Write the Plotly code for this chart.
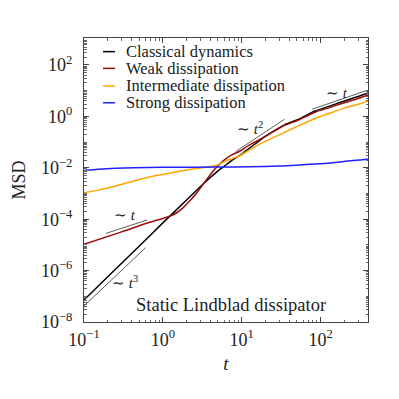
import plotly.graph_objects as go

# ---- data ----
t_black = [0.1, 0.2, 0.5, 1, 2, 3, 4, 5, 6, 8, 10, 13, 20, 35, 50, 85, 130, 200, 300, 400]
msd_black = [7.2e-8, 5.8e-7, 8.9e-6, 7.2e-5, 5.6e-4, 1.86e-3, 4.2e-3, 7.6e-3, 1.15e-2, 2.2e-2,
             3.4e-2, 6.3e-2, 0.166, 0.47, 0.72, 1.62, 2.5, 4.0, 5.9, 8.1]

t_red = [0.1, 0.3, 0.68, 1, 1.23, 1.5, 1.8, 2.2, 2.67, 3.1, 3.57, 4.2, 5, 6, 7.5, 9.4, 12, 16.9,
         20, 35, 50, 85, 130, 200, 300, 400]
msd_red = [1.05e-5, 3.2e-5, 7.6e-5, 1.07e-4, 1.32e-4, 1.78e-4, 2.75e-4, 5.2e-4, 1.02e-3, 1.9e-3,
           3.4e-3, 6.6e-3, 1.2e-2, 2.0e-2, 3.16e-2, 4.4e-2, 7.1e-2, 0.126, 0.17, 0.45, 0.68,
           1.45, 2.2, 3.4, 5.0, 6.9]

t_orange = [0.1, 0.15, 0.26, 0.42, 0.7, 1, 1.84, 2.7, 3.9, 4.8, 6.4, 8, 9.4, 12.6, 16.9, 19.6,
            35, 50, 85, 130, 200, 300, 400]
msd_orange = [1.07e-3, 1.35e-3, 2.0e-3, 3.0e-3, 4.5e-3, 5.5e-3, 7.8e-3, 9.5e-3, 1.1e-2, 1.26e-2,
              1.9e-2, 2.4e-2, 2.9e-2, 5.0e-2, 8.3e-2, 0.105, 0.24, 0.40, 0.83, 1.32, 2.1, 2.95, 4.0]

t_blue = [0.1, 0.15, 0.25, 0.43, 1, 5, 12.6, 30, 54, 100, 143, 220, 312, 400]
msd_blue = [7.8e-3, 8.7e-3, 9.5e-3, 1.0e-2, 1.05e-2, 1.07e-2, 1.1e-2, 1.17e-2, 1.29e-2, 1.45e-2,
            1.58e-2, 1.82e-2, 2.0e-2, 2.2e-2]

# power-law guide lines
guide_t3_t = [0.1, 0.604]
guide_t3_y = [4.2e-8, 7.8e-6]
guide_t1a_t = [0.19, 0.63]
guide_t1a_y = [2.8e-5, 9.3e-5]
guide_t2_t = [8.4, 35]
guide_t2_y = [4.3e-2, 0.78]
guide_t1b_t = [78.5, 378]
guide_t1b_y = [1.9, 10.0]

series_names = ["Classical dynamics", "Weak dissipation", "Intermediate dissipation", "Strong dissipation"]
series_colors = ["#000000", "#9b0b0b", "#ffa500", "#1f1fff"]

y_tick_vals = [1e-8, 1e-6, 1e-4, 1e-2, 1e0, 1e2]
y_tick_text = ["10<sup>−8</sup>", "10<sup>−6</sup>", "10<sup>−4</sup>",
               "10<sup>−2</sup>", "10<sup>0</sup>", "10<sup>2</sup>"]
x_tick_vals = [0.1, 1, 10, 100]
x_tick_text = ["10<sup>−1</sup>", "10<sup>0</sup>", "10<sup>1</sup>", "10<sup>2</sup>"]

FONT = "Liberation Serif"
TXT = "#222222"

fig = go.Figure()

for tt, yy in [(guide_t3_t, guide_t3_y), (guide_t1a_t, guide_t1a_y),
               (guide_t2_t, guide_t2_y), (guide_t1b_t, guide_t1b_y)]:
    fig.add_trace(go.Scatter(x=tt, y=yy, mode="lines", showlegend=False, hoverinfo="skip",
                             line=dict(color="#333333", width=0.8)))

for tt, yy, name, col in zip([t_black, t_red, t_orange, t_blue],
                             [msd_black, msd_red, msd_orange, msd_blue],
                             series_names, series_colors):
    fig.add_trace(go.Scatter(x=tt, y=yy, mode="lines", name=name, showlegend=False,
                             line=dict(color=col, width=1.5, shape="spline", smoothing=0.6)))

minor_y = [m * 10 ** e for e in range(-8, 3) for m in range(1, 10) if not (m == 1 and e % 2 == 0)]
minor_x = [m * 10 ** e for e in range(-1, 3) for m in range(2, 10) if m * 10 ** e <= 400]

axis_common = dict(type="log", showgrid=False, zeroline=False, showline=True,
                   linecolor="#444444", linewidth=1, mirror="ticks", ticks="inside",
                   ticklen=5, tickcolor="#444444", tickfont=dict(family=FONT, size=18, color=TXT))

fig.update_xaxes(range=[-1, 2.602], tickvals=x_tick_vals, ticktext=x_tick_text,
                 ticklabelstandoff=1,
                 title=dict(text="<i>t</i>", font=dict(family=FONT, size=19, color=TXT), standoff=8),
                 minor=dict(tickvals=minor_x, ticks="inside", ticklen=2.5, tickcolor="#666"),
                 **axis_common)
fig.update_yaxes(range=[-8, 3.05], tickvals=y_tick_vals, ticktext=y_tick_text,
                 ticklabelstandoff=7,
                 title=dict(text="MSD", font=dict(family=FONT, size=18, color=TXT), standoff=10),
                 minor=dict(tickvals=minor_y, ticks="inside", ticklen=2.5, tickcolor="#666"),
                 **axis_common)

ann_font = dict(family=FONT, size=15, color=TXT)
annotations = [
    dict(x=-0.481, y=-6.45, text="∼ <i>t</i><sup>3</sup>"),
    dict(x=-0.481, y=-3.84, text="∼ <i>t</i>"),
    dict(x=1.101, y=-0.45, text="∼ <i>t</i><sup>2</sup>"),
    dict(x=2.215, y=0.91, text="∼ <i>t</i>"),
]
for a in annotations:
    fig.add_annotation(xref="x", yref="y", showarrow=False, font=ann_font, **a)
fig.add_annotation(xref="paper", yref="paper", x=0.516, y=0.06, xanchor="center", yanchor="middle",
                   showarrow=False, text="Static Lindblad dissipator",
                   font=dict(family=FONT, size=18.5, color=TXT))

# legend (drawn manually for compact LaTeX-like spacing)
legend_rows = [0.952, 0.893, 0.831, 0.772]
for name, col, yr in zip(series_names, series_colors, legend_rows):
    fig.add_shape(type="line", xref="paper", yref="paper", x0=0.067, x1=0.109, y0=yr, y1=yr,
                  line=dict(color=col, width=1.5))
    fig.add_annotation(xref="paper", yref="paper", x=0.144, y=yr, xanchor="left", yanchor="middle",
                       showarrow=False, borderpad=0, text=name,
                       font=dict(family=FONT, size=16.5, color=TXT))

fig.update_layout(
    width=399, height=399,
    margin=dict(l=76, r=39, t=30, b=85, autoexpand=False),
    paper_bgcolor="white", plot_bgcolor="white",
    font=dict(family=FONT, color=TXT),
    showlegend=False,
)

fig.write_html("out.html")
